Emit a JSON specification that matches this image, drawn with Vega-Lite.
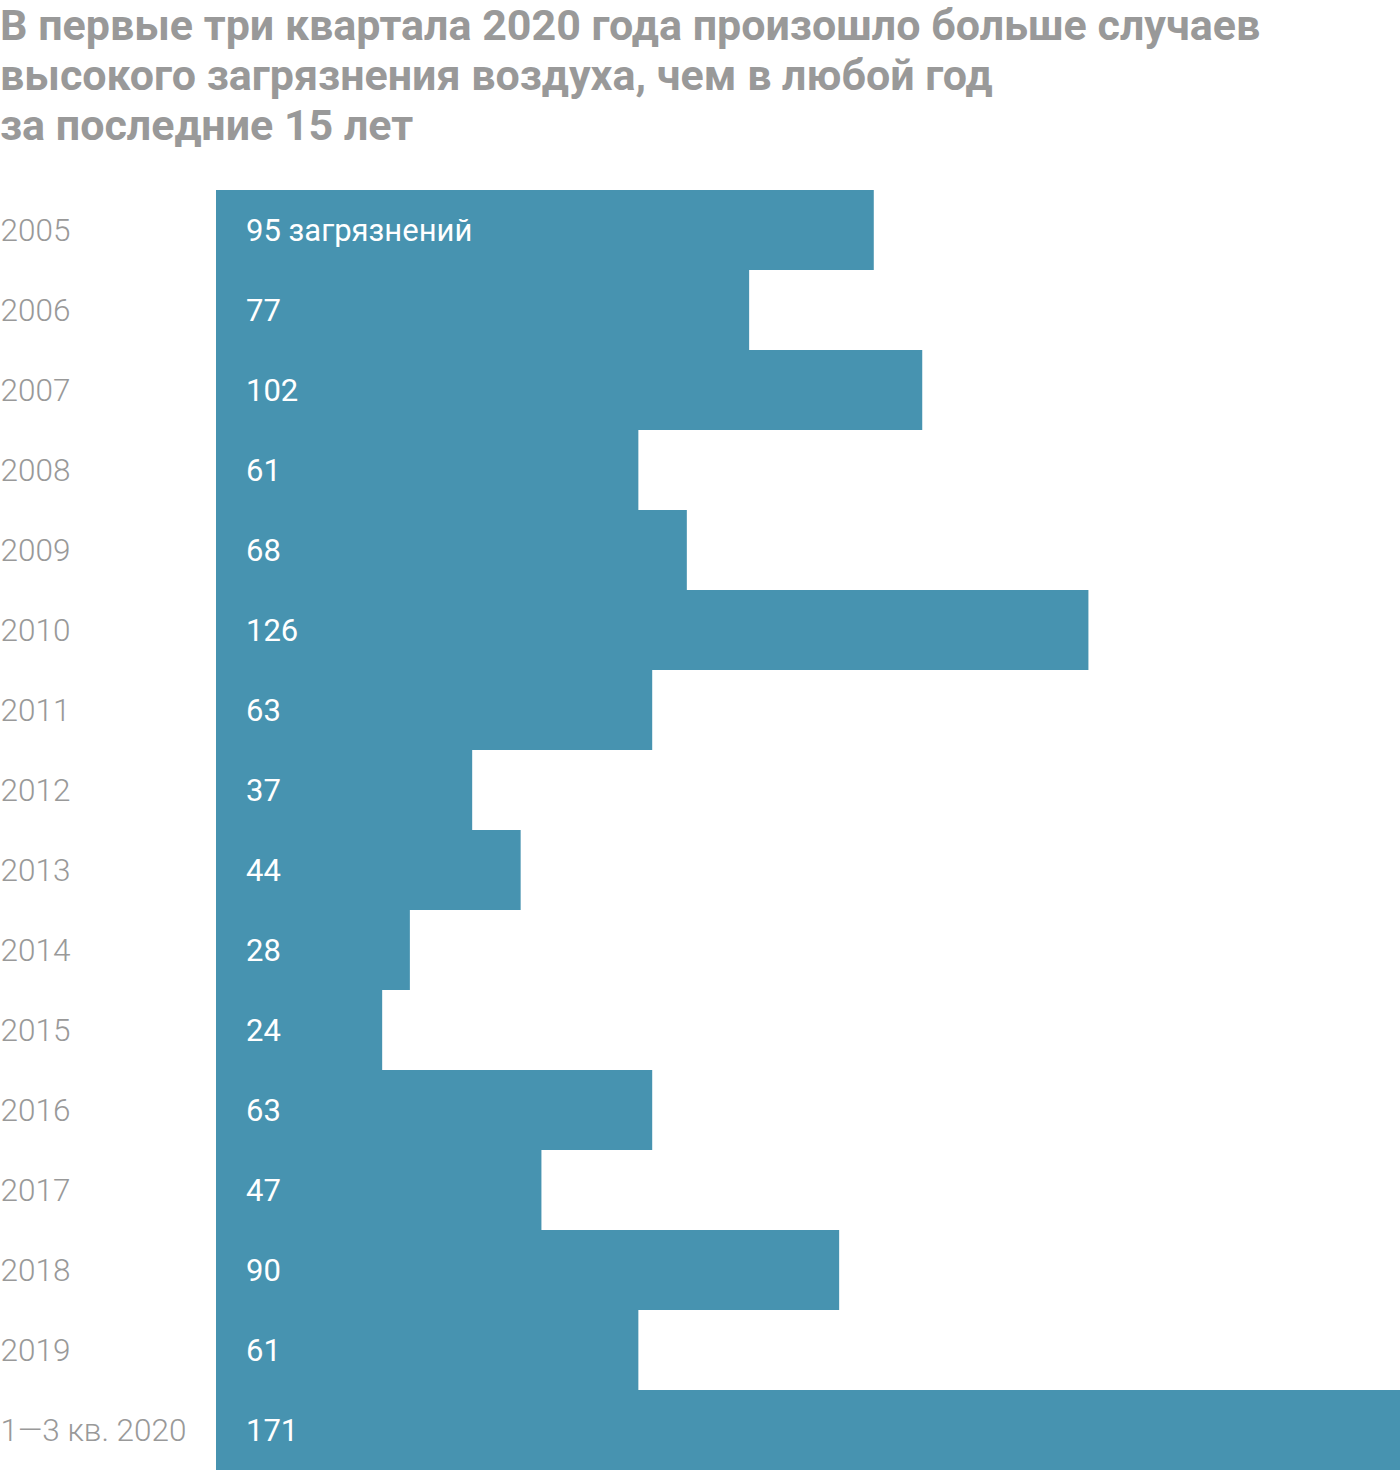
{
  "$schema": "https://vega.github.io/schema/vega-lite/v6.json",
  "autosize": {"type": "none"},
  "padding": {"left": 216, "top": 190, "right": 0, "bottom": 2},
  "width": 1184,
  "height": 1280,
  "background": "white",
  "title": {
    "text": ["В первые три квартала 2020 года произошло больше случаев", "высокого загрязнения воздуха, чем в любой год", "за последние 15 лет"],
    "anchor": "start",
    "frame": "group",
    "dx": -216,
    "offset": 41,
    "font": "Roboto",
    "fontSize": 43,
    "fontWeight": "bold",
    "color": "#999999",
    "lineHeight": 50
  },
  "data": {
    "values": [
      {"year": "2005", "value": 95, "label": "95 загрязнений"},
      {"year": "2006", "value": 77, "label": "77"},
      {"year": "2007", "value": 102, "label": "102"},
      {"year": "2008", "value": 61, "label": "61"},
      {"year": "2009", "value": 68, "label": "68"},
      {"year": "2010", "value": 126, "label": "126"},
      {"year": "2011", "value": 63, "label": "63"},
      {"year": "2012", "value": 37, "label": "37"},
      {"year": "2013", "value": 44, "label": "44"},
      {"year": "2014", "value": 28, "label": "28"},
      {"year": "2015", "value": 24, "label": "24"},
      {"year": "2016", "value": 63, "label": "63"},
      {"year": "2017", "value": 47, "label": "47"},
      {"year": "2018", "value": 90, "label": "90"},
      {"year": "2019", "value": 61, "label": "61"},
      {"year": "1—3 кв. 2020", "value": 171, "label": "171"}
    ]
  },
  "encoding": {
    "y": {
      "field": "year",
      "type": "nominal",
      "sort": null,
      "scale": {"paddingInner": 0, "paddingOuter": 0},
      "axis": {
        "title": null,
        "ticks": false,
        "domain": false,
        "labelAlign": "left",
        "labelPadding": 216,
        "labelOffset": 2,
        "labelFont": "Roboto",
        "labelFontSize": 31.5,
        "labelFontWeight": 300,
        "labelColor": "#999999",
        "labelLimit": 300
      }
    }
  },
  "layer": [
    {
      "mark": {"type": "bar", "color": "#4793b0"},
      "encoding": {
        "x": {"field": "value", "type": "quantitative", "scale": {"domain": [0, 171], "nice": false}, "axis": null}
      }
    },
    {
      "mark": {"type": "text", "align": "left", "baseline": "middle", "dx": 30, "dy": 2, "color": "white", "font": "Roboto", "fontSize": 31},
      "encoding": {
        "x": {"datum": 0, "type": "quantitative"},
        "text": {"field": "label"}
      }
    }
  ],
  "config": {"view": {"stroke": null}}
}
